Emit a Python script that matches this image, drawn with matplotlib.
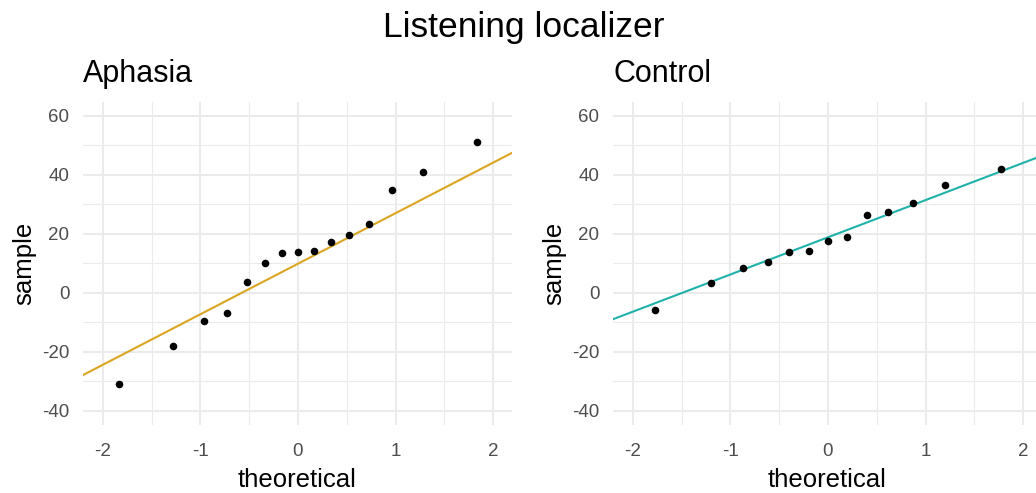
"""Normal Q-Q plots of listening-localizer values, aphasia vs control."""

import matplotlib
matplotlib.use("Agg")
import matplotlib.pyplot as plt
from matplotlib.ticker import MultipleLocator
import numpy as np

plt.rcParams["font.family"] = ["Liberation Sans", "DejaVu Sans"]
plt.rcParams["axes.unicode_minus"] = False

# theoretical normal quantiles and observed samples per group
aphasia_theo = [-1.834, -1.282, -0.967, -0.728, -0.524, -0.341, -0.168, 0.0,
                0.168, 0.341, 0.524, 0.728, 0.967, 1.282, 1.834]
aphasia_sample = [-30.9, -18.0, -9.4, -7.0, 3.6, 10.1, 13.4, 13.7,
                  14.0, 17.3, 19.6, 23.2, 34.9, 40.9, 51.1]

control_theo = [-1.769, -1.198, -0.869, -0.615, -0.396, -0.194, 0.0,
                0.194, 0.396, 0.615, 0.869, 1.198, 1.769]
control_sample = [-5.8, 3.3, 8.5, 10.3, 13.7, 14.1, 17.4,
                  19.0, 26.2, 27.3, 30.5, 36.4, 41.8]

panels = [
    ("Aphasia", aphasia_theo, aphasia_sample, "#DAA520"),
    ("Control", control_theo, control_sample, "#20B2AA"),
]

GRID = "#EBEBEB"
TICK = "#4D4D4D"
XLIM = (-2.2, 2.19)
YLIM = (-44.7, 64.7)


def qq_line(sample):
    # line through the 1st and 3rd quartiles, like geom_qq_line
    y1, y2 = np.quantile(sample, [0.25, 0.75])
    x1, x2 = -0.6745, 0.6745
    slope = (y2 - y1) / (x2 - x1)
    return slope, y1 - slope * x1


fig = plt.figure(figsize=(10.36, 4.93), dpi=100)
fig.text(0.506, 0.945, "Listening localizer", ha="center", va="center", fontsize=25.5)

lefts = [83.3 / 1036, 613.3 / 1036]
for (name, theo, sample, color), left in zip(panels, lefts):
    ax = fig.add_axes([left, 0.1385, 428.4 / 1036, 0.655])
    for sp in ax.spines.values():
        sp.set_visible(False)

    ax.xaxis.set_major_locator(MultipleLocator(1))
    ax.xaxis.set_minor_locator(MultipleLocator(0.5))
    ax.yaxis.set_major_locator(MultipleLocator(20))
    ax.yaxis.set_minor_locator(MultipleLocator(10))
    ax.grid(which="major", color=GRID, linewidth=1.5)
    ax.grid(which="minor", color=GRID, linewidth=0.8)
    ax.set_axisbelow(True)
    ax.tick_params(which="both", length=0, labelsize=13.5, labelcolor=TICK)
    ax.tick_params(axis="x", pad=13)
    ax.tick_params(axis="y", pad=10)

    slope, icpt = qq_line(sample)
    xs = np.array(XLIM)
    ax.plot(xs, icpt + slope * xs, color=color, linewidth=1.5, zorder=2)
    ax.scatter(theo, sample, s=30, color="black", zorder=3, linewidths=0)

    ax.set_xlim(*XLIM)
    ax.set_ylim(*YLIM)
    ax.set_xlabel("theoretical", fontsize=18.5, labelpad=6)
    ax.set_ylabel("sample", fontsize=18.5, labelpad=4)
    ax.set_title(name, loc="left", fontsize=22, pad=14)

fig.savefig("out.png", dpi=100)
